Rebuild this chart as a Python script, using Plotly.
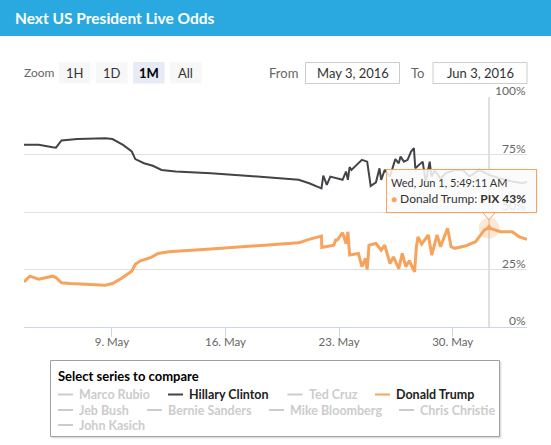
import plotly.graph_objects as go

# ---------------- data ----------------
title_text = "Next US President Live Odds"

hillary_dates = [
    "2016-05-03 14:00", "2016-05-04 11:36", "2016-05-05 08:27", "2016-05-05 13:18",
    "2016-05-05 21:28", "2016-05-06 20:50", "2016-05-08 14:24", "2016-05-09 00:48",
    "2016-05-09 16:26", "2016-05-10 05:26", "2016-05-10 10:36", "2016-05-10 23:30",
    "2016-05-11 12:30", "2016-05-12 01:30", "2016-05-12 22:24", "2016-05-15 02:18",
    "2016-05-17 06:24", "2016-05-20 12:18", "2016-05-21 03:48", "2016-05-21 22:00",
    "2016-05-22 00:42", "2016-05-22 05:54", "2016-05-22 11:06", "2016-05-22 16:18",
    "2016-05-23 05:12", "2016-05-23 10:18", "2016-05-23 13:06", "2016-05-23 15:36",
    "2016-05-23 18:18", "2016-05-24 09:48", "2016-05-24 17:36", "2016-05-24 22:48",
    "2016-05-25 06:36", "2016-05-25 11:48", "2016-05-25 14:18", "2016-05-25 19:36",
    "2016-05-26 03:18", "2016-05-26 11:12", "2016-05-26 16:18", "2016-05-26 19:00",
    "2016-05-27 00:00", "2016-05-27 05:24", "2016-05-27 10:30", "2016-05-27 14:42",
    "2016-05-27 16:48", "2016-05-28 03:42", "2016-05-28 08:12", "2016-05-28 14:06",
    "2016-05-28 16:36", "2016-05-28 21:30", "2016-05-29 06:18", "2016-05-29 13:42",
    "2016-05-30 04:30", "2016-05-30 14:54", "2016-05-31 00:48", "2016-05-31 15:36",
    "2016-06-01 06:24", "2016-06-01 21:12", "2016-06-02 16:48", "2016-06-03 07:36",
    "2016-06-03 14:00",
]
hillary_values = [
    79.2, 79.2, 78.2, 78.0, 81.1, 81.7, 82.1, 81.7,
    79.2, 76.3, 73.0, 71.2, 70.1, 68.3, 67.6, 66.9,
    65.8, 64.0, 62.5, 60.3, 65.8, 61.8, 65.4, 65.0,
    64.0, 67.6, 64.0, 69.5, 68.3, 72.7, 71.9, 61.3,
    62.9, 69.0, 64.0, 68.3, 65.4, 73.0, 71.2, 74.1,
    71.9, 72.7, 76.3, 77.8, 69.0, 71.9, 63.0, 71.9,
    65.4, 68.0, 64.5, 66.9, 68.3, 68.3, 65.4, 68.3,
    66.1, 64.7, 63.2, 62.5, 63.2,
]

trump_dates = [
    "2016-05-03 14:00", "2016-05-03 22:42", "2016-05-04 11:42", "2016-05-05 08:24",
    "2016-05-05 13:36", "2016-05-05 21:30", "2016-05-06 10:30", "2016-05-07 12:24",
    "2016-05-08 14:24", "2016-05-09 00:48", "2016-05-09 13:48", "2016-05-10 05:24",
    "2016-05-10 10:36", "2016-05-10 18:18", "2016-05-11 10:00", "2016-05-11 20:18",
    "2016-05-12 12:00", "2016-05-15 02:18", "2016-05-17 06:24", "2016-05-20 12:18",
    "2016-05-21 03:30", "2016-05-21 22:00", "2016-05-21 22:30", "2016-05-22 16:18",
    "2016-05-22 18:54", "2016-05-22 21:24", "2016-05-23 05:12", "2016-05-23 10:18",
    "2016-05-23 13:06", "2016-05-23 15:36", "2016-05-24 04:36", "2016-05-24 09:48",
    "2016-05-24 15:00", "2016-05-24 17:36", "2016-05-24 20:18", "2016-05-25 06:36",
    "2016-05-25 14:18", "2016-05-25 19:36", "2016-05-26 03:18", "2016-05-26 08:30",
    "2016-05-26 16:18", "2016-05-26 21:30", "2016-05-27 02:42", "2016-05-27 07:54",
    "2016-05-27 15:42", "2016-05-27 18:24", "2016-05-27 20:48", "2016-05-28 02:06",
    "2016-05-28 12:06", "2016-05-28 17:06", "2016-05-29 01:00", "2016-05-29 06:06",
    "2016-05-29 16:30", "2016-05-29 21:48", "2016-05-30 03:00", "2016-05-30 18:30",
    "2016-05-31 10:00", "2016-05-31 15:24", "2016-05-31 23:00", "2016-06-01 05:49:11",
    "2016-06-01 23:06", "2016-06-02 16:06", "2016-06-03 02:30", "2016-06-03 14:00",
]
trump_values = [
    19.6, 22.1, 20.8, 22.1, 21.4, 19.2, 18.9, 18.5,
    18.2, 18.9, 21.1, 24.3, 27.3, 28.8, 30.3, 32.0,
    32.7, 33.9, 34.9, 36.6, 38.1, 39.5, 34.6, 35.6,
    37.8, 37.8, 41.0, 36.3, 41.4, 31.3, 32.0, 26.2,
    29.8, 25.0, 35.6, 36.3, 33.4, 35.6, 27.6, 30.5,
    25.4, 32.0, 26.2, 28.8, 24.0, 34.9, 39.2, 36.0,
    40.0, 31.3, 40.0, 34.9, 42.9, 34.9, 34.2, 35.2,
    37.1, 39.2, 42.2, 43.0, 41.4, 41.4, 39.2, 38.1,
]

x_range = ["2016-05-03 14:00", "2016-06-03 14:00"]
x_tick_dates = ["2016-05-09", "2016-05-16", "2016-05-23", "2016-05-30"]
x_tick_labels = ["9. May", "16. May", "23. May", "30. May"]
y_tick_values = [0, 25, 50, 75, 100]
y_tick_labels = ["0%", "25%", "50%", "75%", "100%"]

hover_date = "2016-06-01 05:49:11"
hover_value = 43
hover_label = "Wed, Jun 1, 5:49:11 AM"
hover_series = "Donald Trump"

zoom_buttons = ["1H", "1D", "1M", "All"]
selected_button = "1M"
from_text = "May 3, 2016"
to_text = "Jun 3, 2016"

legend_title = "Select series to compare"
legend_names = ["Marco Rubio", "Hillary Clinton", "Ted Cruz", "Donald Trump",
                "Jeb Bush", "Bernie Sanders", "Mike Bloomberg", "Chris Christie",
                "John Kasich"]
legend_active = [False, True, False, True, False, False, False, False, False]

# ---------------- styling / layout helpers ----------------
W, H = 551, 445
L, T, PW, PH = 24, 97, 503, 230
FONT = "Lato"
C_HIL = "#434348"
C_TRU = "#f7a35c"


def X(px):
    return (px - L) / PW


def Y(py):
    return (T + PH - py) / PH


fig = go.Figure()

fig.add_trace(go.Scatter(x=hillary_dates, y=hillary_values, mode="lines",
                         line=dict(color=C_HIL, width=2), name="Hillary Clinton",
                         showlegend=False))
fig.add_trace(go.Scatter(x=trump_dates, y=trump_values, mode="lines",
                         line=dict(color=C_TRU, width=3), name="Donald Trump",
                         showlegend=False))
# hover halo + marker
fig.add_trace(go.Scatter(x=[hover_date], y=[hover_value], mode="markers",
                         marker=dict(size=21, color="rgba(247,163,92,0.25)"),
                         showlegend=False))
fig.add_trace(go.Scatter(x=[hover_date], y=[hover_value], mode="markers",
                         marker=dict(size=8, symbol="triangle-up", color=C_TRU),
                         showlegend=False))

shapes = []
annotations = []

# header
shapes.append(dict(type="rect", xref="paper", yref="paper", x0=X(0), x1=X(W),
                   y0=Y(36), y1=Y(0), fillcolor="#29a9e0", line=dict(width=0),
                   layer="below"))
annotations.append(dict(text="<b>" + title_text + "</b>", xref="paper", yref="paper",
                        x=X(13), y=Y(18), xanchor="left", yanchor="middle",
                        showarrow=False, font=dict(family=FONT, size=15.5, color="white")))

# range selector
annotations.append(dict(text="Zoom", xref="paper", yref="paper", x=X(22), y=Y(72.5),
                        xanchor="left", yanchor="middle", showarrow=False,
                        font=dict(family=FONT, size=12, color="#666666")))
btn_x = [59, 96, 133, 170]
for bx, lab in zip(btn_x, zoom_buttons):
    sel = lab == selected_button
    shapes.append(dict(type="rect", xref="paper", yref="paper", x0=X(bx), x1=X(bx + 31.5),
                       y0=Y(83.5), y1=Y(62), fillcolor="#e6ebf5" if sel else "#f7f7f7",
                       line=dict(width=0), layer="below"))
    annotations.append(dict(text=("<b>" + lab + "</b>") if sel else lab, xref="paper",
                            yref="paper", x=X(bx + 15.75), y=Y(72.5), xanchor="center",
                            yanchor="middle", showarrow=False,
                            font=dict(family=FONT, size=13,
                                      color="#000000" if sel else "#333333")))

annotations.append(dict(text="From", xref="paper", yref="paper", x=X(267), y=Y(72.5),
                        xanchor="left", yanchor="middle", showarrow=False,
                        font=dict(family=FONT, size=13, color="#666666")))
annotations.append(dict(text="To", xref="paper", yref="paper", x=X(409), y=Y(72.5),
                        xanchor="left", yanchor="middle", showarrow=False,
                        font=dict(family=FONT, size=13, color="#666666")))
for x0, x1, txt in [(305.5, 399.5, from_text), (433, 527, to_text)]:
    shapes.append(dict(type="rect", xref="paper", yref="paper", x0=X(x0), x1=X(x1),
                       y0=Y(83.5), y1=Y(62.5), fillcolor="white",
                       line=dict(width=1, color="#cccccc"), layer="below"))
    annotations.append(dict(text=txt, xref="paper", yref="paper", x=X((x0 + x1) / 2),
                            y=Y(73), xanchor="center", yanchor="middle", showarrow=False,
                            font=dict(family=FONT, size=13, color="#333333")))

# y-axis labels (Highcharts style: right aligned, sitting above grid lines)
for v, lab in zip(y_tick_values, y_tick_labels):
    annotations.append(dict(text=lab, xref="paper", yref="y", x=1.0, y=v,
                            xanchor="right", yanchor="middle", yshift=6.5, xshift=1,
                            showarrow=False,
                            font=dict(family=FONT, size=12, color="#666666")))

# crosshair
shapes.append(dict(type="line", xref="x", yref="paper", x0=hover_date, x1=hover_date,
                   y0=0, y1=1, line=dict(color="#c0c0c0", width=1), layer="below"))


# tooltip callout (pointer as shape, body as annotation drawn over the axis labels)
def path_from(points):
    s = "M %.5f %.5f" % (X(points[0][0]), Y(points[0][1]))
    for p in points[1:]:
        s += " L %.5f %.5f" % (X(p[0]), Y(p[1]))
    return s


bx0, bx1, by0, by1 = 385.5, 536, 168.5, 212
tip_x, tip_y = 489, 220
shapes.append(dict(type="path", xref="paper", yref="paper",
                   path=path_from([(bx0 + 1.5, by1 + 0.5), (bx1 + 1.5, by1 + 0.5),
                                   (bx1 + 1.5, by0 + 1.5), (bx1 + 0.5, by0 + 1.5),
                                   (bx1 + 0.5, by1 + 1.5), (bx0 + 1.5, by1 + 1.5)]) + " Z",
                   fillcolor="rgba(0,0,0,0.08)", line=dict(width=0), layer="above"))
shapes.append(dict(type="path", xref="paper", yref="paper",
                   path=path_from([(tip_x - 6.5, by1 - 0.5), (tip_x, tip_y),
                                   (tip_x + 6.5, by1 - 0.5)]) + " Z",
                   fillcolor="rgba(250,250,250,0.86)", line=dict(width=0), layer="above"))
shapes.append(dict(type="path", xref="paper", yref="paper",
                   path=path_from([(tip_x - 6.5, by1), (tip_x, tip_y), (tip_x + 6.5, by1)]),
                   line=dict(width=1, color=C_TRU), layer="above"))
annotations.append(dict(
    text='<span style="font-size:11px">%s</span><br><span style="color:%s;font-size:10px">\u25CF</span> %s: <b>PIX %d%%</b>'
         % (hover_label, C_TRU, hover_series, hover_value),
    xref="paper", yref="paper", x=X(bx0), y=Y(by0), xanchor="left", yanchor="top",
    width=bx1 - bx0 - 10, height=by1 - by0 - 10, align="left", valign="middle",
    borderpad=4, borderwidth=1, bordercolor=C_TRU, bgcolor="rgba(250,250,250,0.86)",
    showarrow=False, font=dict(family=FONT, size=12, color="#333333")))

# legend panel
shapes.append(dict(type="rect", xref="paper", yref="paper", x0=X(51.5), x1=X(501.5),
                   y0=Y(438.5), y1=Y(361.5), fillcolor="rgba(0,0,0,0.12)",
                   line=dict(width=0), layer="below"))
shapes.append(dict(type="rect", xref="paper", yref="paper", x0=X(50.5), x1=X(499.5),
                   y0=Y(436.5), y1=Y(360.5), fillcolor="white",
                   line=dict(width=1, color="#a0a0a0"), layer="below"))
annotations.append(dict(text="<b>" + legend_title + "</b>", xref="paper", yref="paper",
                        x=X(56), y=Y(375.5), xanchor="left", yanchor="middle",
                        showarrow=False, font=dict(family=FONT, size=13, color="#000000")))
legend_pos = [(58, 394.5), (168, 394.5), (287.5, 394.5), (375, 394.5),
              (58, 410), (147, 410), (269, 410), (399, 410),
              (58, 425)]
series_colors = {"Hillary Clinton": C_HIL, "Donald Trump": C_TRU}
for name, active, (lx, ly) in zip(legend_names, legend_active, legend_pos):
    col = series_colors.get(name, "#cccccc") if active else "#cccccc"
    shapes.append(dict(type="line", xref="paper", yref="paper", x0=X(lx), x1=X(lx + 15),
                       y0=Y(ly), y1=Y(ly), line=dict(color=col, width=2), layer="below"))
    annotations.append(dict(text="<b>" + name + "</b>", xref="paper", yref="paper",
                            x=X(lx + 19), y=Y(ly), xanchor="left", yanchor="middle",
                            showarrow=False,
                            font=dict(family=FONT, size=12.5,
                                      color="#222222" if active else "#cccccc")))

fig.update_layout(
    width=W, height=H,
    margin=dict(l=L, r=W - L - PW, t=T, b=H - T - PH),
    paper_bgcolor="white", plot_bgcolor="white",
    showlegend=False, hovermode=False, dragmode=False,
    font=dict(family=FONT, color="#666666"),
    shapes=shapes, annotations=annotations,
    xaxis=dict(type="date", range=x_range, tickmode="array", tickvals=x_tick_dates,
               ticktext=x_tick_labels, showgrid=False, showline=True,
               linecolor="#ccd6eb", linewidth=1, ticks="outside", ticklen=9,
               tickcolor="#ccd6eb", ticklabelstandoff=-5,
               tickfont=dict(family=FONT, size=11.5, color="#666666"),
               zeroline=False, fixedrange=True),
    yaxis=dict(range=[0, 100], side="right", tickmode="array", tickvals=y_tick_values,
               showticklabels=False,
               showgrid=True, gridcolor="#e0e0e0", gridwidth=1, zeroline=False,
               showline=False, ticks="", fixedrange=True),
)

fig.write_html("out.html", config={"displayModeBar": False, "staticPlot": True})
